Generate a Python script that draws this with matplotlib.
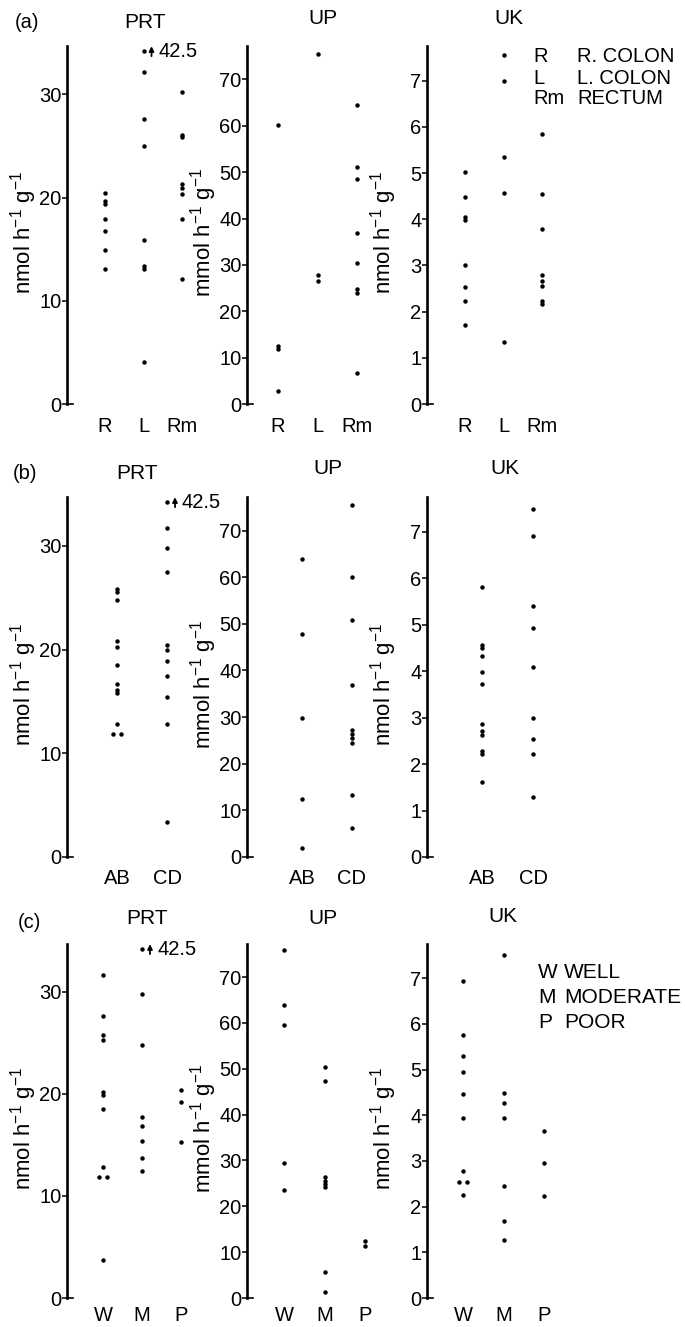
import numpy as np
import matplotlib.pyplot as plt

plt.rcParams['font.family'] = ['Liberation Sans', 'DejaVu Sans']
plt.rcParams['mathtext.fontset'] = 'custom'
plt.rcParams['mathtext.rm'] = 'Liberation Sans'
plt.rcParams['mathtext.default'] = 'regular'

# DATA  (42.5 is off scale and drawn capped)
site_cats = ["R", "L", "Rm"]
a_prt = [[20.5, 19.7, 19.4, 17.9, 16.8, 14.9, 13.1],
         [42.5, 32.2, 27.6, 25.0, 15.9, 13.4, 13.1, 4.1],
         [30.2, 26.1, 25.9, 21.3, 20.9, 20.4, 17.9, 12.1]]
a_up = [[60.2, 12.4, 11.8, 2.7],
        [75.5, 27.8, 26.5],
        [64.5, 51.0, 48.6, 36.8, 30.4, 24.9, 23.9, 6.6]]
a_uk = [[5.02, 4.49, 4.05, 3.98, 3.0, 2.53, 2.24, 1.72],
        [7.56, 7.0, 5.35, 4.57, 1.34],
        [5.84, 4.55, 3.78, 2.8, 2.66, 2.56, 2.24, 2.16]]

dukes_cats = ["AB", "CD"]
b_prt = [[25.8, 25.5, 24.8, 20.8, 20.2, 18.5, 16.7, 16.1, 15.8, 12.8, 11.9, 11.9],
         [42.5, 31.7, 29.8, 27.5, 20.4, 20.0, 18.9, 17.4, 15.4, 12.8, 3.4]]
b_up = [[64.0, 47.8, 29.9, 12.4, 1.9],
        [75.5, 60.1, 50.9, 36.8, 27.2, 26.4, 25.5, 24.4, 13.2, 6.3]]
b_uk = [[5.81, 4.57, 4.5, 4.32, 3.99, 3.72, 2.86, 2.71, 2.63, 2.28, 2.21, 1.62],
        [7.5, 6.92, 5.4, 4.94, 4.08, 3.0, 2.53, 2.21, 1.29]]

grade_cats = ["W", "M", "P"]
c_prt = [[31.7, 27.6, 25.8, 25.3, 20.2, 19.9, 18.5, 12.8, 11.9, 11.9, 3.7],
         [42.5, 29.8, 24.8, 17.7, 16.9, 15.4, 13.7, 12.4],
         [20.4, 19.2, 15.3]]
c_up = [[75.9, 63.8, 59.5, 29.5, 23.5],
        [50.3, 47.4, 26.3, 25.6, 24.9, 24.1, 5.6, 1.3],
        [12.4, 11.3]]
c_uk = [[6.94, 5.76, 5.29, 4.95, 4.46, 3.95, 2.77, 2.55, 2.55, 2.26],
        [7.51, 4.48, 4.26, 3.95, 2.46, 1.68, 1.27],
        [3.66, 2.95, 2.24]]

enzymes = ["PRT", "UP", "UK"]
ylabels = [r"nmol h$^{-1}$ g$^{-1}$", r"mmol h$^{-1}$ g$^{-1}$", r"nmol h$^{-1}$ g$^{-1}$"]
yticks = [[0, 10, 20, 30], [0, 10, 20, 30, 40, 50, 60, 70], [0, 1, 2, 3, 4, 5, 6, 7]]
ymax = [34.7, 77.2, 7.75]
cap_shown = 34.2

# LAYOUT (pixels)
W, H = 685, 1327
fig = plt.figure(figsize=(W / 100, H / 100), dpi=100)
spine_x = [67, 247, 427]
ax_w = 140

rows = [
    dict(tag="(a)", cats=site_cats, data=[a_prt, a_up, a_uk], top=46, bot=404,
         c0=[105, 278, 465], step=[38.5, 39.5, 38.5], xpad=9.5,
         titles=[(145, 22), (323, 19), (509, 18)], tagpos=(15, 22)),
    dict(tag="(b)", cats=dukes_cats, data=[b_prt, b_up, b_uk], top=497, bot=857,
         c0=[117, 302, 482], step=[50, 50, 51], xpad=9,
         titles=[(137, 473), (328, 468), (505, 468)], tagpos=(13, 473)),
    dict(tag="(c)", cats=grade_cats, data=[c_prt, c_up, c_uk], top=944, bot=1298,
         c0=[103, 284, 463], step=[39, 40.5, 40.5], xpad=6,
         titles=[(147, 919), (323, 919), (503, 917)], tagpos=(18, 923)),
]


def draw_panel(ax, groups, cats, k, step, ypx):
    top = ymax[k]
    for i, vals in enumerate(groups):
        vals = np.array(vals, dtype=float)
        xs = np.full(len(vals), float(i))
        # identical values are drawn side by side
        for v in np.unique(vals):
            idx = np.where(vals == v)[0]
            if len(idx) > 1:
                xs[idx] = i + (np.arange(len(idx)) - (len(idx) - 1) / 2) * 8 / step
        shown = np.where(vals > top, cap_shown, vals)
        ax.plot(xs, shown, "o", color="black", ms=3.2, mec="none", clip_on=False)
        for xv, v in zip(xs, vals):
            if v > top:
                ax_x = xv + 8 / step
                ax.annotate("", xy=(ax_x, cap_shown + 5 / ypx), xytext=(ax_x, cap_shown - 5 / ypx),
                            arrowprops=dict(arrowstyle="-|>", color="black", lw=1.3,
                                            mutation_scale=7, shrinkA=0, shrinkB=0),
                            annotation_clip=False)
                ax.text(xv + 15 / step, cap_shown, f"{v:g}", ha="left", va="center",
                        fontsize=14.5)
    ax.set_ylim(0, top)
    ax.set_yticks(yticks[k])
    ax.set_xticks(range(len(cats)))
    ax.set_xticklabels(cats)


for r in rows:
    for k in range(3):
        x0 = spine_x[k]
        hpx = r["bot"] - r["top"]
        ax = fig.add_axes([x0 / W, 1 - r["bot"] / H, ax_w / W, hpx / H])
        ax.patch.set_alpha(0)
        step = r["step"][k]
        xl0 = (x0 - r["c0"][k]) / step
        ax.set_xlim(xl0, xl0 + ax_w / step)
        draw_panel(ax, r["data"][k], r["cats"], k, step, hpx / ymax[k])
        for s in ["top", "right"]:
            ax.spines[s].set_visible(False)
        ax.spines["left"].set_linewidth(1.9)
        ax.spines["bottom"].set_linewidth(1.2)
        ax.spines["bottom"].set_bounds(xl0, xl0 + 6 / step)
        ax.tick_params(axis="y", direction="out", length=3.5, width=1.1, labelsize=14.5, pad=0.5)
        ax.tick_params(axis="x", length=0, labelsize=14.5, pad=r["xpad"])
        ax.set_ylabel(ylabels[k], fontsize=16)
        ax.yaxis.set_label_coords(-28 / ax_w, 0.48)
        tx, ty = r["titles"][k]
        fig.text(tx / W, 1 - ty / H, enzymes[k], ha="center", va="center", fontsize=15)
    fig.text(r["tagpos"][0] / W, 1 - r["tagpos"][1] / H, r["tag"], ha="left", va="center", fontsize=14.5)

# key texts
key_a = [("R", "R. COLON"), ("L", "L. COLON"), ("Rm", "RECTUM")]
for j, (a, b) in enumerate(key_a):
    y = 1 - (57 + 21 * j) / H
    fig.text(533 / W, y, a, ha="left", va="center", fontsize=14.5)
    fig.text(577 / W, y, b, ha="left", va="center", fontsize=14.5)

key_c = [("W", "WELL"), ("M", "MODERATE"), ("P", "POOR")]
for j, (a, b) in enumerate(key_c):
    y = 1 - (972 + 25.5 * j) / H
    fig.text(538 / W, y, a, ha="left", va="center", fontsize=15)
    fig.text(564 / W, y, b, ha="left", va="center", fontsize=15)

fig.savefig("out.png", dpi=100, facecolor="white")
